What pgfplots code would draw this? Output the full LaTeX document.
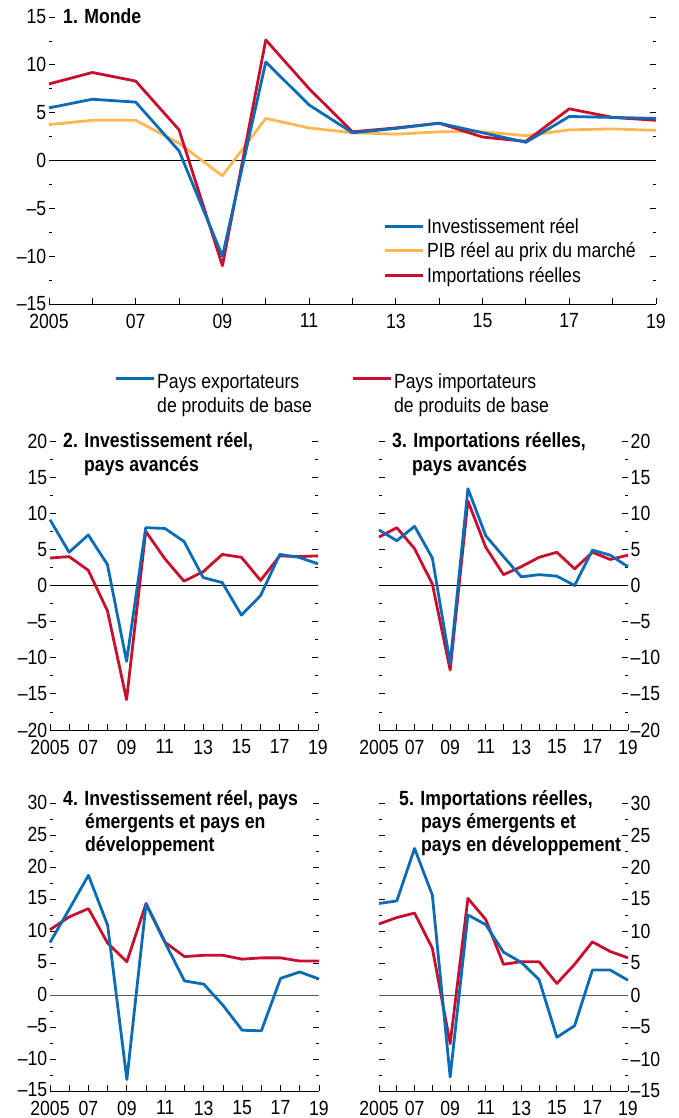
\documentclass[border=0pt]{standalone}
\usepackage{fontspec}
\setmainfont{Liberation Sans}[FakeStretch=0.86]
\usepackage{pgfplots}
\usepackage{pgfplotstable}
\pgfplotsset{compat=1.18}

\definecolor{imfblue}{HTML}{0B6BB5}
\definecolor{imfred}{HTML}{C8102E}
\definecolor{imforange}{HTML}{FDB851}

\newcommand{\fs}{\fontsize{20.5}{23.5}\selectfont}

% 1. Monde
\pgfplotstableread{
year inv pib imp
2005 5.5 3.75 8.0
2006 6.4 4.2 9.2
2007 6.1 4.2 8.3
2008 1.0 1.8 3.2
2009 -10.0 -1.6 -11.0
2010 10.3 4.4 12.6
2011 5.8 3.4 7.5
2012 2.9 2.9 3.0
2013 3.35 2.75 3.4
2014 3.9 3.0 3.9
2015 2.9 3.0 2.45
2016 1.9 2.6 2.0
2017 4.6 3.2 5.4
2018 4.5 3.3 4.5
2019 4.4 3.15 4.2
}\monde
% 2. investissement, pays avances
\pgfplotstableread{
year exp imp
2005 9.1 3.8
2006 4.6 4.0
2007 7.0 2.1
2008 2.9 -3.5
2009 -10.5 -15.8
2010 8.0 7.5
2011 7.9 3.7
2012 6.1 0.6
2013 1.1 1.9
2014 0.4 4.3
2015 -4.1 3.9
2016 -1.4 0.7
2017 4.3 4.1
2018 3.9 4.0
2019 3.0 4.1
}\invav
% 3. importations, pays avances
\pgfplotstableread{
year exp imp
2005 7.7 6.7
2006 6.2 8.0
2007 8.2 5.1
2008 3.8 0.2
2009 -10.8 -11.7
2010 13.4 11.7
2011 6.9 5.3
2012 4.0 1.5
2013 1.2 2.6
2014 1.5 3.9
2015 1.3 4.6
2016 0.0 2.3
2017 4.9 4.6
2018 4.2 3.6
2019 2.6 4.2
}\impav
% 4. investissement, emergents
\pgfplotstableread{
year exp imp
2005 8.2 10.2
2006 13.4 12.2
2007 18.7 13.5
2008 10.9 8.1
2009 -13.2 5.2
2010 14.2 14.3
2011 8.1 8.2
2012 2.2 6.0
2013 1.7 6.2
2014 -1.6 6.2
2015 -5.5 5.6
2016 -5.6 5.8
2017 2.6 5.8
2018 3.6 5.3
2019 2.5 5.3
}\invem
% 5. importations, emergents
\pgfplotstableread{
year exp imp
2005 14.3 11.1
2006 14.7 12.1
2007 22.9 12.8
2008 15.6 7.3
2009 -12.8 -7.6
2010 12.5 15.1
2011 11.0 11.8
2012 6.7 4.8
2013 5.1 5.2
2014 2.4 5.2
2015 -6.6 1.8
2016 -4.8 4.8
2017 3.9 8.3
2018 3.9 6.8
2019 2.3 5.8
}\impem

\pgfplotsset{
  panel/.style={
    scale only axis,
    xmin=2005, xmax=2019,
    axis line style={draw=none},
    tick align=inside,
    major tick length=6pt, minor tick length=3pt,
    tick style={black, line width=0.8pt},
    xtick={2005,...,2019},
    xticklabels={2005,,07,,09,,11,,13,,15,,17,,19},
    xtick pos=bottom, ytick pos=both,
    minor y tick num=1,
    tick label style={font=\fs, inner sep=2.5pt},
    yticklabel style={inner ysep=0pt},
    xticklabel style={yshift=-7pt},
    extra y ticks={0}, extra y tick labels={},
    extra y tick style={grid=major, major tick length=0pt,
      major grid style={black, line width=0.9pt}},
    clip=false,
    every axis plot/.append style={line width=2.8pt, line join=round},
    legend image code/.code={\draw[##1, line width=3pt] (0pt,7pt) -- (38pt,7pt);},
  },
}

\begin{document}
\begin{tikzpicture}

% panel 1
\begin{axis}[panel, at={(49pt,814pt)}, anchor=south west,
    width=607pt, height=287pt,
    ymin=-15, ymax=15, ytick={-15,-10,...,15},
    yticklabels={--15,--10,--5,0,5,10,15},
    legend style={at={(0.550,0.307)}, anchor=north west, draw=none, fill=none,
      inner sep=0pt, row sep=4pt,
      cells={anchor=base west, inner sep=0pt, text height=15pt, text depth=5pt, font=\fs},
      /tikz/every odd column/.append style={column sep=1pt}}]
  \addlegendimage{imfblue}\addlegendentry{Investissement réel}
  \addlegendimage{imforange}\addlegendentry{PIB réel au prix du marché}
  \addlegendimage{imfred}\addlegendentry{Importations réelles}
  \addplot[imforange, forget plot] table[x=year, y=pib] {\monde};
  \addplot[imfred, forget plot] table[x=year, y=imp] {\monde};
  \addplot[imfblue, forget plot] table[x=year, y=inv] {\monde};
  \draw[black, line width=0.9pt] (rel axis cs:0,0) -- (rel axis cs:1,0);
\end{axis}

% panel 2
\begin{axis}[panel, at={(50pt,388pt)}, anchor=south west,
    width=268pt, height=289pt,
    ymin=-20, ymax=20, ytick={-20,-15,...,20},
    yticklabels={--20,--15,--10,--5,0,5,10,15,20},
    legend image code/.code={\draw[#1, line width=3pt] (0pt,10pt) -- (38pt,10pt);},
    legend columns=2,
    legend style={at={(0.2388,1.245)}, anchor=north west, draw=none, fill=none,
      inner sep=0pt,
      cells={anchor=base west, inner sep=0pt, font=\fs},
      /tikz/every odd column/.append style={column sep=0pt},
      /tikz/every even column/.append style={column sep=37pt}}]
  \addlegendimage{imfblue}
  \addlegendentry{\begin{tabular}[t]{@{}l@{}}Pays exportateurs\\de produits de base\end{tabular}}
  \addlegendimage{imfred}
  \addlegendentry{\begin{tabular}[t]{@{}l@{}}Pays importateurs\\de produits de base\end{tabular}}
  \addplot[imfred, forget plot] table[x=year, y=imp] {\invav};
  \addplot[imfblue, forget plot] table[x=year, y=exp] {\invav};
  \draw[black, line width=0.9pt] (rel axis cs:0,0) -- (rel axis cs:1,0);
\end{axis}

% panel 3
\begin{axis}[panel, at={(379pt,388pt)}, anchor=south west,
    width=249pt, height=289pt,
    ymin=-20, ymax=20, ytick={-20,-15,...,20},
    yticklabels={--20,--15,--10,--5,0,5,10,15,20},
    yticklabel pos=right]
  \addplot[imfred] table[x=year, y=imp] {\impav};
  \addplot[imfblue] table[x=year, y=exp] {\impav};
  \draw[black, line width=0.9pt] (rel axis cs:0,0) -- (rel axis cs:1,0);
\end{axis}

% panel 4
\begin{axis}[panel, at={(50pt,27pt)}, anchor=south west,
    width=269pt, height=288pt,
    ymin=-15, ymax=30, ytick={-15,-10,...,30},
    yticklabels={--15,--10,--5,0,5,10,15,20,25,30},
    xticklabel style={inner sep=1pt, yshift=-1.5pt},
    yticklabel style={yshift=1pt},
    extra y tick style={major grid style={black!65, line width=0.9pt}}]
  \addplot[imfred] table[x=year, y=imp] {\invem};
  \addplot[imfblue] table[x=year, y=exp] {\invem};
  \draw[black, line width=0.9pt] (rel axis cs:0,0) -- (rel axis cs:1,0);
\end{axis}

% panel 5
\begin{axis}[panel, at={(379pt,27pt)}, anchor=south west,
    width=249pt, height=288pt,
    ymin=-15, ymax=30, ytick={-15,-10,...,30},
    yticklabels={--15,--10,--5,0,5,10,15,20,25,30},
    yticklabel pos=right,
    xticklabel style={inner sep=1pt, yshift=-1.5pt},
    extra y tick style={major grid style={black!65, line width=0.9pt}}]
  \addplot[imfred] table[x=year, y=imp] {\impem};
  \addplot[imfblue] table[x=year, y=exp] {\impem};
  \draw[black, line width=0.9pt] (rel axis cs:0,0) -- (rel axis cs:1,0);
\end{axis}

% titles
\begin{scope}[every node/.style={anchor=base west, inner sep=0pt, font=\fs\bfseries}]
  \node at (63pt,1094pt) {1. Monde};
  \node at (63pt,670pt) {2. Investissement réel,};
  \node at (84pt,646pt) {pays avancés};
  \node at (392pt,670pt) {3. Importations réelles,};
  \node at (412pt,646pt) {pays avancés};
  \node at (63pt,312pt) {4. Investissement réel, pays};
  \node at (85pt,289pt) {émergents et pays en};
  \node at (85pt,266pt) {développement};
  \node at (399pt,312pt) {5. Importations réelles,};
  \node at (421pt,289pt) {pays émergents et};
  \node at (421pt,266pt) {pays en développement};
\end{scope}

\pgfresetboundingbox
\path (0pt,0pt) rectangle (679pt,1118pt);
\end{tikzpicture}
\end{document}
